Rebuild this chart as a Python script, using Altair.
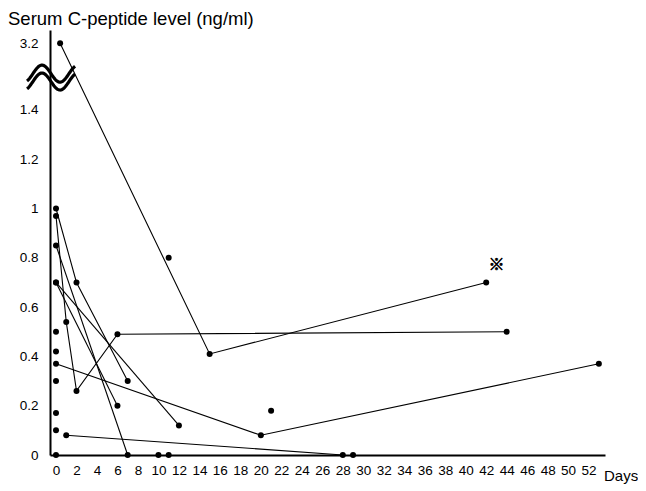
import altair as alt
import pandas as pd

# ---- data ----
# each patient: days after onset, serum C-peptide (ng/ml)
p1_days = [0.4, 15, 42]
p1_vals = [3.2, 0.41, 0.7]
p2_days = [0, 1, 2, 6, 44]
p2_vals = [0.97, 0.54, 0.26, 0.49, 0.5]
p3_days = [0, 2, 7]
p3_vals = [1.0, 0.7, 0.3]
p4_days = [0, 7]
p4_vals = [0.85, 0]
p5_days = [0, 6]
p5_vals = [0.7, 0.2]
p6_days = [0, 12]
p6_vals = [0.7, 0.12]
p7_days = [0, 20, 53]
p7_vals = [0.37, 0.08, 0.37]
p8_days = [1, 28]
p8_vals = [0.08, 0]
# single measurements
single_days = [0, 0, 0, 0, 0, 0, 10, 11, 29, 11, 21]
single_vals = [0.5, 0.42, 0.3, 0.17, 0.1, 0, 0, 0, 0, 0.8, 0.18]

x_ticks = list(range(0, 53, 2))
y_ticks = [0, 0.2, 0.4, 0.6, 0.8, 1.0, 1.2, 1.4, 3.2]

mark_day, mark_val, mark_text = [43], [0.77], ["※"]

title_text = "Serum C-peptide level (ng/ml)"
x_title = "Days"

# axis break: values above 1.4 compressed
BREAK, K = 1.4, 0.15


def compress(v):
    return v if v <= BREAK else BREAK + (v - BREAK) * K


rows = []
series = [(p1_days, p1_vals), (p2_days, p2_vals), (p3_days, p3_vals),
          (p4_days, p4_vals), (p5_days, p5_vals), (p6_days, p6_vals),
          (p7_days, p7_vals), (p8_days, p8_vals)]
for i, (ds, vs) in enumerate(series):
    for d, v in zip(ds, vs):
        rows.append({"patient": f"p{i+1}", "day": d, "value": v})
for j, (d, v) in enumerate(zip(single_days, single_vals)):
    rows.append({"patient": f"s{j+1}", "day": d, "value": v})
df = pd.DataFrame(rows)

calc = f"datum.value <= {BREAK} ? datum.value : {BREAK} + (datum.value - {BREAK}) * {K}"

FONT = "Liberation Sans"
xscale = alt.Scale(domain=[-0.586, 53.6], nice=False, zero=False)
yscale = alt.Scale(domain=[0, 1.724], nice=False, zero=False)

xaxis = alt.Axis(values=x_ticks, tickCount=60, title=None, grid=False, ticks=False,
                 tickSize=0, labelPadding=8, labelFont=FONT, labelFontSize=13.5,
                 labelColor="black", domainColor="black", domainWidth=2.2,
                 labelFlush=False, labelOverlap=False)
yaxis = alt.Axis(values=[compress(v) for v in y_ticks], tickCount=30, title=None,
                 grid=False, ticks=False, tickSize=0, labelPadding=12,
                 labelFont=FONT, labelFontSize=13.5, labelColor="black",
                 domainColor="black", domainWidth=2, labelFlush=False,
                 labelOverlap=False,
                 labelExpr=f"datum.value > {BREAK} + 0.01 ? format({BREAK} + (datum.value - {BREAK}) / {K}, '.1f') : format(datum.value, '~g')")

base = alt.Chart(df).transform_calculate(yd=calc)

lines = base.mark_line(color="black", strokeWidth=1.1).encode(
    x=alt.X("day:Q", scale=xscale, axis=xaxis),
    y=alt.Y("yd:Q", scale=yscale, axis=yaxis),
    detail="patient:N",
    order="day:Q",
)

points = base.mark_circle(color="black", size=36, opacity=1).encode(
    x="day:Q", y="yd:Q"
)

# axis-break symbol (decoration): two wavy strokes across the y axis
wave = alt.Chart(alt.sequence(0, 1.0001, 0.01, as_="t")).transform_calculate(
    day="-2.83 + 4.69 * datum.t",
    w1="1.547 + 0.0345 * cos(2 * PI * (datum.day + 1.37) / 3.52)",
    w2="1.515 + 0.0345 * cos(2 * PI * (datum.day + 1.37) / 3.52)",
).transform_fold(["w1", "w2"], as_=["wave", "yd"]).mark_line(
    color="black", strokeWidth=3.2
).encode(x="day:Q", y="yd:Q", detail="wave:N", order="t:Q")

mark_df = pd.DataFrame({"day": mark_day, "value": mark_val, "txt": mark_text})
refmark = alt.Chart(mark_df).transform_calculate(yd=calc).mark_text(
    font="Noto Sans CJK JP", fontSize=16, fontWeight="bold", color="black",
    stroke="black", strokeWidth=0.6
).encode(x="day:Q", y="yd:Q", text="txt:N")

title = alt.Chart(pd.DataFrame({"t": [title_text]})).mark_text(
    align="left", baseline="alphabetic", font=FONT, fontSize=18.5, color="black"
).encode(x=alt.value(-42), y=alt.value(-5), text="t:N")

days_lbl = alt.Chart(pd.DataFrame({"t": [x_title]})).mark_text(
    align="left", baseline="middle", font=FONT, fontSize=15, color="black"
).encode(x=alt.value(554), y=alt.value(446), text="t:N")

chart = alt.layer(lines, wave, points, refmark, title, days_lbl).properties(
    width=555, height=425,
    background="white",
    autosize=alt.AutoSizeParams(type="none"),
    padding={"left": 42, "top": 22, "right": 33, "bottom": 30},
).configure_view(strokeOpacity=0, strokeWidth=0).configure_axis(
    labelOverlap=False
)

chart.save("out.html", embed_options={"renderer": "svg", "actions": False})
